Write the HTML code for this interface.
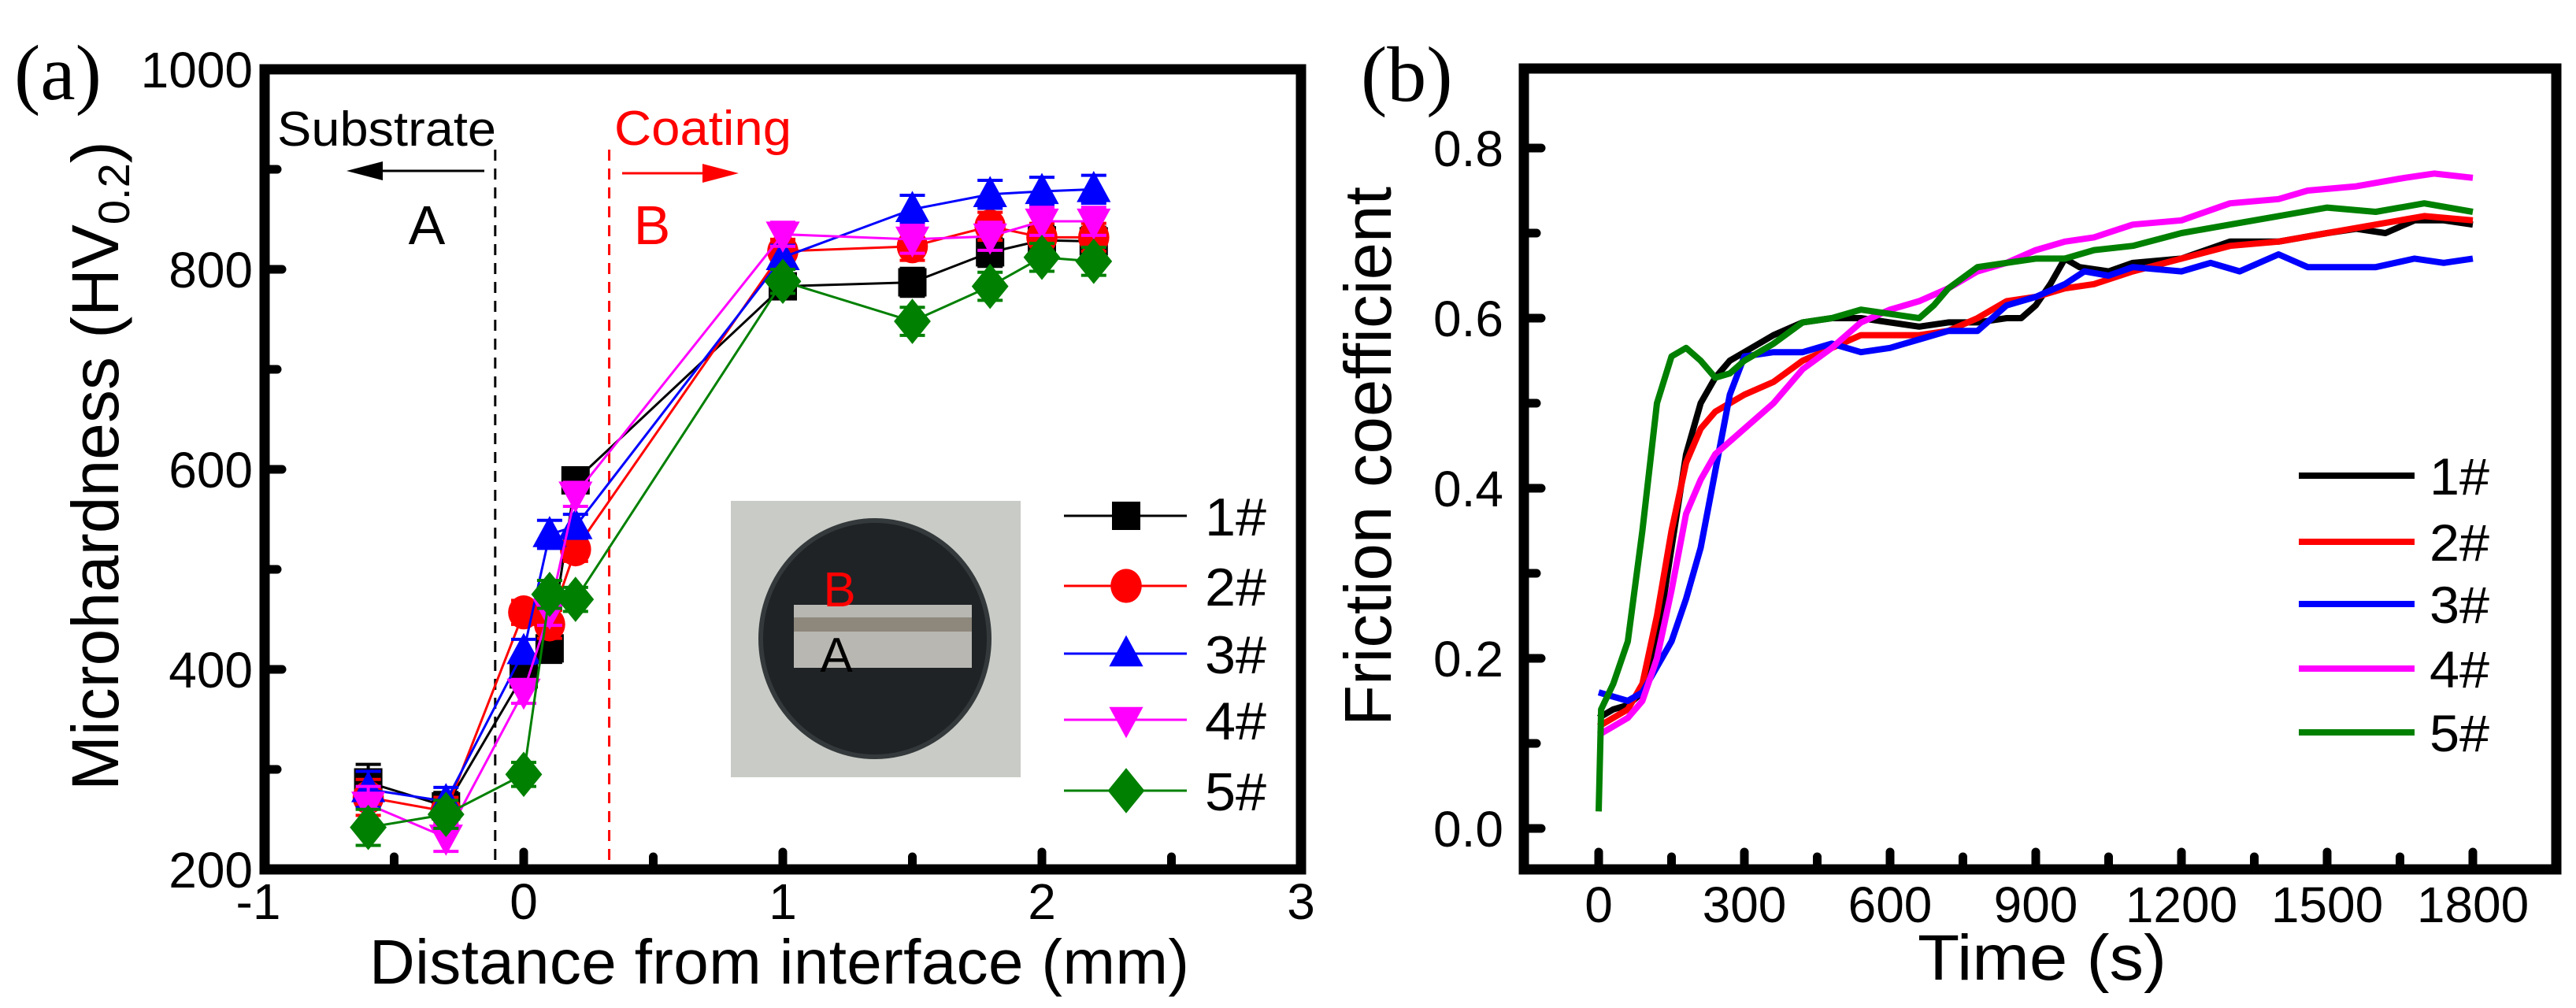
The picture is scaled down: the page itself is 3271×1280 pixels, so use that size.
<!DOCTYPE html>
<html><head><meta charset="utf-8"><style>
html,body{margin:0;padding:0;background:#fff}
svg{display:block}
text{font-family:"Liberation Sans",sans-serif}
</style></head><body>
<svg id="fig" xmlns="http://www.w3.org/2000/svg" width="3271" height="1280" viewBox="0 0 3271 1280">
<g id="pa"></g>
<g id="pb"></g>
</svg>
<script>
// ---- Panel (a) data ----
const aX = [-0.6, -0.3, 0, 0.1, 0.2, 1, 1.5, 1.8, 2, 2.2];
const a1 = [287, 263, 395, 421, 589, 783, 787, 817, 829, 828];
const a2 = [272, 258, 457, 445, 520, 818, 823, 843, 832, 832];
const a3 = [280, 268, 418, 535, 543, 812, 860, 875, 878, 880];
const a4 = [265, 232, 378, 458, 575, 835, 830, 833, 848, 848];
const a5 = [242, 255, 295, 475, 470, 788, 748, 783, 812, 808];
const aErr = [18, 14, 12, 14, 12, 12, 14, 14, 14, 14];
const aNames = ["1#", "2#", "3#", "4#", "5#"];
const aYTicks = [200, 400, 600, 800, 1000];
const aXTicks = [-1, 0, 1, 2, 3];
// ---- Panel (b) data ----
const b1t = [0,30,60,90,120,150,180,210,240,270,300,360,420,480,540,600,660,720,780,840,870,900,930,960,990,1050,1100,1200,1300,1400,1500,1560,1620,1680,1740,1800];
const b1v = [0.13,0.14,0.145,0.16,0.22,0.33,0.44,0.50,0.53,0.55,0.56,0.58,0.595,0.60,0.60,0.595,0.59,0.595,0.595,0.60,0.60,0.615,0.64,0.67,0.66,0.655,0.665,0.67,0.69,0.69,0.70,0.705,0.70,0.715,0.715,0.71];
const b2t = [0,30,60,90,120,150,180,210,240,270,300,360,420,480,540,600,660,720,780,840,900,960,1020,1100,1200,1300,1400,1500,1600,1700,1800];
const b2v = [0.12,0.13,0.14,0.17,0.25,0.35,0.43,0.47,0.49,0.50,0.51,0.525,0.55,0.565,0.58,0.58,0.58,0.585,0.60,0.62,0.625,0.635,0.64,0.655,0.67,0.685,0.69,0.70,0.71,0.72,0.715];
const b3t = [0,30,60,90,120,150,180,210,240,270,300,360,420,480,540,600,660,720,780,840,900,960,1000,1050,1100,1200,1260,1320,1400,1460,1520,1600,1680,1740,1800];
const b3v = [0.16,0.155,0.15,0.16,0.19,0.22,0.27,0.33,0.42,0.51,0.555,0.56,0.56,0.57,0.56,0.565,0.575,0.585,0.585,0.615,0.625,0.64,0.655,0.65,0.66,0.655,0.665,0.655,0.675,0.66,0.66,0.66,0.67,0.665,0.67];
const b4t = [0,30,60,90,120,150,180,210,240,270,300,360,420,480,540,600,660,720,780,840,900,960,1020,1100,1200,1300,1400,1460,1560,1660,1720,1800];
const b4v = [0.11,0.12,0.13,0.15,0.20,0.28,0.37,0.41,0.44,0.455,0.47,0.50,0.54,0.565,0.595,0.61,0.62,0.635,0.655,0.665,0.68,0.69,0.695,0.71,0.715,0.735,0.74,0.75,0.755,0.765,0.77,0.765];
const b5t = [0,5,30,60,90,120,150,180,210,240,270,300,360,420,480,540,600,660,690,720,780,840,900,960,1020,1100,1200,1300,1400,1500,1600,1700,1800];
const b5v = [0.02,0.14,0.17,0.22,0.35,0.50,0.555,0.565,0.55,0.53,0.535,0.55,0.57,0.595,0.60,0.61,0.605,0.60,0.615,0.635,0.66,0.665,0.67,0.67,0.68,0.685,0.70,0.71,0.72,0.73,0.725,0.735,0.725];
const bYTicks = [0.0, 0.2, 0.4, 0.6, 0.8];
const bXTicks = [0, 300, 600, 900, 1200, 1500, 1800];
const colors = ["#000000", "#ff0000", "#0000ff", "#ff00ff", "#008000"];

const NS = "http://www.w3.org/2000/svg";
function mk(parent, tag, attrs, txt) {
  const e = document.createElementNS(NS, tag);
  for (const k in attrs) e.setAttribute(k, attrs[k]);
  if (txt !== undefined) e.textContent = txt;
  parent.appendChild(e);
  return e;
}
// ===== Panel a =====
const pa = document.getElementById('pa');
const AL = 336, AR = 1652, AT = 88, AB = 1104;
const ax = v => AL + (v + 1) * (AR - AL) / 4;
const ay = v => AB - (v - 200) * (AB - AT) / 800;

// dashed lines & annotations
let e;
e = mk(pa, 'line', {x1: ax(-0.11), x2: ax(-0.11), y1: 190, y2: 1098, stroke: '#000', 'stroke-width': 3, 'stroke-dasharray': '14 10'});
 
e = mk(pa, 'line', {x1: ax(0.33), x2: ax(0.33), y1: 190, y2: 1098, stroke: '#ff0000', 'stroke-width': 3, 'stroke-dasharray': '14 10'});
 
e = mk(pa, 'text', {x: 352, y: 185, 'font-size': 62, textLength: 278, lengthAdjust: 'spacingAndGlyphs'}, 'Substrate');
 
e = mk(pa, 'line', {x1: 615, x2: 470, y1: 217, y2: 217, stroke: '#000', 'stroke-width': 3});
 
e = mk(pa, 'polygon', {points: '440,217 486,205 486,229', fill: '#000'});
 
e = mk(pa, 'text', {x: 542, y: 310, 'font-size': 70, 'text-anchor': 'middle'}, 'A');
 
e = mk(pa, 'text', {x: 780, y: 184, 'font-size': 62, fill: '#ff0000', textLength: 225, lengthAdjust: 'spacingAndGlyphs'}, 'Coating');
 
e = mk(pa, 'line', {x1: 790, x2: 905, y1: 220, y2: 220, stroke: '#ff0000', 'stroke-width': 3});
 
e = mk(pa, 'polygon', {points: '938,220 892,208 892,232', fill: '#ff0000'});
 
e = mk(pa, 'text', {x: 828, y: 310, 'font-size': 70, fill: '#ff0000', 'text-anchor': 'middle'}, 'B');
 

// inset photo
const ins = mk(pa, 'g', {});
 
mk(ins, 'rect', {x: 928, y: 636, width: 368, height: 351, fill: '#c9cbc6'});
mk(ins, 'ellipse', {cx: 1111, cy: 811, rx: 145, ry: 150, fill: '#1f2326', stroke: '#34393b', 'stroke-width': 6});
mk(ins, 'rect', {x: 1008, y: 768, width: 226, height: 80, fill: '#b8b7b2'});
mk(ins, 'rect', {x: 1008, y: 784, width: 226, height: 18, fill: '#8e877c'});
e = mk(ins, 'text', {x: 1066, y: 770, 'font-size': 62, fill: '#ff0000', 'text-anchor': 'middle'}, 'B');
 
e = mk(ins, 'text', {x: 1062, y: 853, 'font-size': 62, fill: '#000', 'text-anchor': 'middle'}, 'A');
 

function marker(g, i, cx, cy, s, col) {
  if (i === 0) return mk(g, 'rect', {x: cx - s/2, y: cy - s/2, width: s, height: s, fill: col});
  if (i === 1) return mk(g, 'ellipse', {cx: cx, cy: cy, rx: s*0.55, ry: s*0.6, fill: col});
  if (i === 2) return mk(g, 'polygon', {points: `${cx},${cy - s*0.65} ${cx - s*0.6},${cy + s*0.45} ${cx + s*0.6},${cy + s*0.45}`, fill: col});
  if (i === 3) return mk(g, 'polygon', {points: `${cx},${cy + s*0.65} ${cx - s*0.6},${cy - s*0.45} ${cx + s*0.6},${cy - s*0.45}`, fill: col});
  return mk(g, 'polygon', {points: `${cx},${cy - s*0.8} ${cx + s*0.65},${cy} ${cx},${cy + s*0.8} ${cx - s*0.65},${cy}`, fill: col});
}
const aSeries = [a1, a2, a3, a4, a5];
aSeries.forEach((vals, i) => {
  const g = mk(pa, 'g', {});
  
  
  const pts = aX.map((x, j) => ax(x) + ',' + ay(vals[j])).join(' ');
  const pl = mk(g, 'polyline', {points: pts, fill: 'none', stroke: colors[i], 'stroke-width': 3});
  
  
  aX.forEach((x, j) => {
    const cx = ax(x), t = ay(vals[j] + aErr[j]), b = ay(vals[j] - aErr[j]);
    const eb = mk(g, 'path', {d: `M${cx},${t}V${b}M${cx-16},${t}H${cx+16}M${cx-16},${b}H${cx+16}`, stroke: colors[i], 'stroke-width': 4, fill: 'none'});
    
    
    const m = marker(g, i, cx, ay(vals[j]), 36, colors[i]);
    
    
  });
});
// legend a
aNames.forEach((n, i) => {
  const y = [655, 744, 830, 914, 1004][i];
  const g = mk(pa, 'g', {});
  
  
  mk(g, 'line', {x1: 1351, x2: 1507, y1: y, y2: y, stroke: colors[i], 'stroke-width': 3});
  marker(g, i, 1430, y, 36, colors[i]);
  mk(g, 'text', {x: 1530, y: y + 25, 'font-size': 68, textLength: 78, lengthAdjust: 'spacingAndGlyphs'}, n);
});
// axes a
e = mk(pa, 'rect', {x: AL, y: AT, width: AR - AL, height: AB - AT, fill: 'none', stroke: '#000', 'stroke-width': 13});
 
for (let v = 300; v < 1000; v += 100) {
  const major = v % 200 === 0;
  const t = mk(pa, 'line', {x1: AL, x2: AL + (major ? 22 : 16), y1: ay(v), y2: ay(v), stroke: '#000', 'stroke-width': 11, 'stroke-linecap': 'round'});
   
}
for (let v = -0.5; v < 3; v += 0.5) {
  const major = Math.abs(v - Math.round(v)) < 1e-6;
  const t = mk(pa, 'line', {x1: ax(v), x2: ax(v), y1: AB, y2: AB - (major ? 22 : 16), stroke: '#000', 'stroke-width': 11, 'stroke-linecap': 'round'});
   
}
aYTicks.forEach(v => {
  const t = mk(pa, 'text', {x: 321, y: ay(v) + 23, 'font-size': 64, 'text-anchor': 'end'}, String(v));
   
});
aXTicks.forEach(v => {
  const t = mk(pa, 'text', {x: ax(v) + (v < 0 ? -8 : 0), y: 1167, 'font-size': 64, 'text-anchor': 'middle'}, String(v));
   
});
e = mk(pa, 'text', {x: 469, y: 1249, 'font-size': 80, textLength: 1041, lengthAdjust: 'spacing'}, 'Distance from interface (mm)');
 
e = mk(pa, 'text', {transform: 'translate(150,1004) rotate(-90)', 'font-size': 84});
 
e.innerHTML = 'Microhardness (HV<tspan font-size="56" dy="14">0.2</tspan><tspan dy="-14">)</tspan>';
e = mk(pa, 'text', {x: 18, y: 126, 'font-size': 100, style: 'font-family:"Liberation Serif",serif'}, '(a)');
 

// ===== Panel b =====
const pb = document.getElementById('pb');
const BL = 1935, BR = 3246, BT = 87, BB = 1104;
const bx = t => 2030 + t * 185 / 300;
const by = v => 1052 - v * 1080;
const bT = [b1t, b2t, b3t, b4t, b5t], bV = [b1v, b2v, b3v, b4v, b5v];
bT.forEach((ts, i) => {
  const pts = ts.map((t, j) => bx(t).toFixed(1) + ',' + by(bV[i][j]).toFixed(1)).join(' ');
  const pl = mk(pb, 'polyline', {points: pts, fill: 'none', stroke: colors[i], 'stroke-width': 8, 'stroke-linejoin': 'round'});
  
  
});
aNames.forEach((n, i) => {
  const y = [604, 688, 767, 849, 930][i];
  const g = mk(pb, 'g', {});
  
  
  mk(g, 'line', {x1: 2919, x2: 3066, y1: y, y2: y, stroke: colors[i], 'stroke-width': 8});
  mk(g, 'text', {x: 3085, y: y + 24, 'font-size': 66, textLength: 76, lengthAdjust: 'spacingAndGlyphs'}, n);
});
e = mk(pb, 'rect', {x: BL, y: BT, width: BR - BL, height: BB - BT, fill: 'none', stroke: '#000', 'stroke-width': 13});
 
for (let k = 0; k <= 8; k++) {
  const v = k / 10, major = k % 2 === 0;
  const t = mk(pb, 'line', {x1: BL, x2: BL + (major ? 22 : 16), y1: by(v), y2: by(v), stroke: '#000', 'stroke-width': 11, 'stroke-linecap': 'round'});
   
}
for (let v = 0; v <= 1800; v += 150) {
  const major = v % 300 === 0;
  const t = mk(pb, 'line', {x1: bx(v), x2: bx(v), y1: BB, y2: BB - (major ? 22 : 16), stroke: '#000', 'stroke-width': 11, 'stroke-linecap': 'round'});
   
}
bYTicks.forEach(v => {
  const t = mk(pb, 'text', {x: 1909, y: by(v) + 23, 'font-size': 64, 'text-anchor': 'end'}, v.toFixed(1));
   
});
bXTicks.forEach(v => {
  const t = mk(pb, 'text', {x: bx(v), y: 1171, 'font-size': 64, 'text-anchor': 'middle'}, String(v));
   
});
e = mk(pb, 'text', {x: 2435, y: 1244, 'font-size': 82, textLength: 316, lengthAdjust: 'spacingAndGlyphs'}, 'Time (s)');
 
e = mk(pb, 'text', {transform: 'translate(1766,922) rotate(-90)', 'font-size': 84, textLength: 685, lengthAdjust: 'spacingAndGlyphs'}, 'Friction coefficient');
 
e = mk(pb, 'text', {x: 1728, y: 128, 'font-size': 100, style: 'font-family:"Liberation Serif",serif'}, '(b)');
 
</script>
</body></html>
